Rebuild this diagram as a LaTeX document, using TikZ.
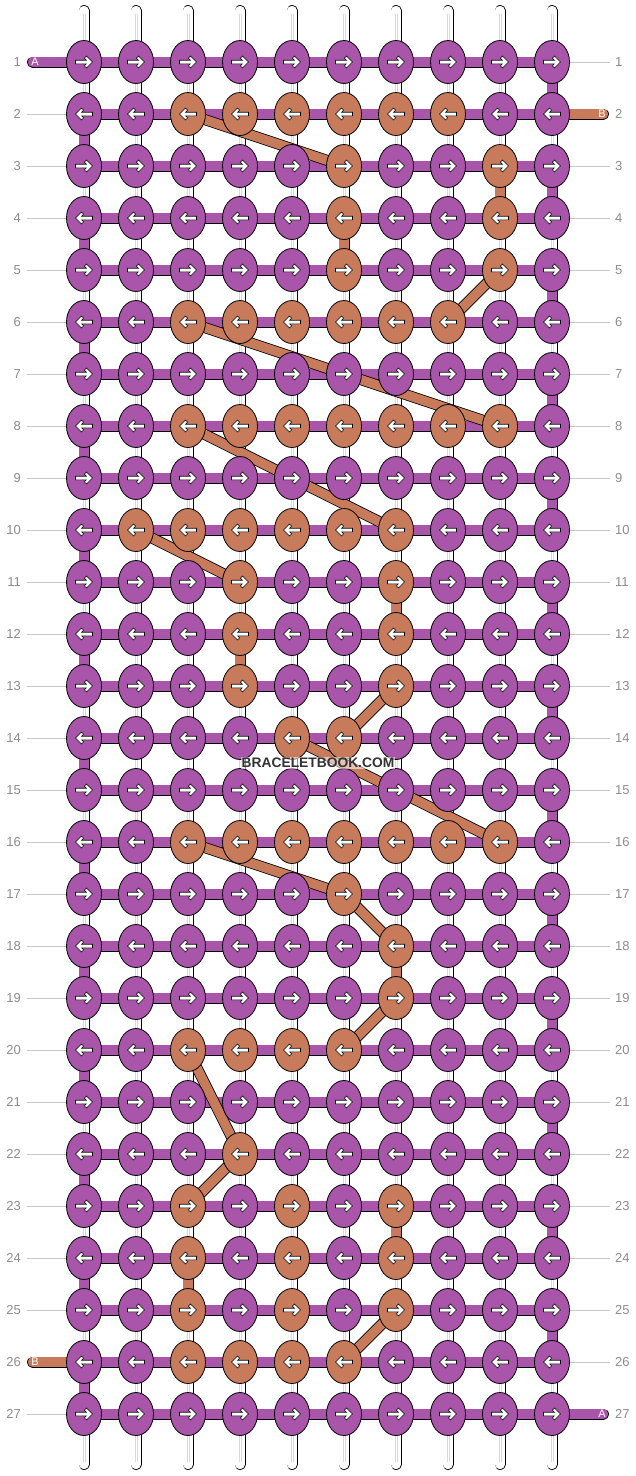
\documentclass[tikz,border=0pt]{standalone}
\usepackage{fontspec}
\setmainfont{Liberation Sans}
\usetikzlibrary{shapes.geometric}
\definecolor{threadA}{HTML}{A855AA}
\definecolor{threadB}{HTML}{C87B5A}
\definecolor{rowgray}{HTML}{8C8C8C}
\definecolor{guidegray}{HTML}{C8C8C8}
\pgfdeclarelayer{strings}
\pgfdeclarelayer{bands}
\pgfsetlayers{strings,bands,main}
\tikzset{
	knot/.style={ellipse, draw=black, line width=.8, minimum width=35, minimum height=43, inner sep=0},
	thread/.style={draw=black, line width=.8, double distance=9.4},
	warp/.style={draw=black, line width=.8, double=white, double distance=9.4, line cap=round},
	rowlabel/.style={text=rowgray, font=\fontsize{13}{15}\selectfont, inner sep=0},
	endlabel/.style={text=white, font=\fontsize{11}{13}\selectfont, inner sep=0},
	guide/.style={guidegray, line width=1},
	pics/knotarrow/.style={code={
		\filldraw[fill=white, draw=black, line width=.6] (-8.5,-1.8) -- (2.46,-1.8) -- (0.38,-3.88) -- (2.5,-6) -- (8.5,0)
			-- (2.5,6) -- (0.38,3.88) -- (2.46,1.8) -- (-8.5,1.8) -- cycle;
	}}
}

\begin{document}
\begin{tikzpicture}[x=1pt,y=-1pt]
			\useasboundingbox (0,0) rectangle (636,1476);

			% KNOTS OF THREAD B
			\foreach \rw/\cs in {2/{3,4,5,6,7,8}, 3/{6,9}, 4/{6,9}, 5/{6,9}, 6/{3,4,5,6,7,8}, 8/{3,4,5,6,7,8,9},
					10/{2,3,4,5,6,7}, 11/{4,7}, 12/{4,7}, 13/{4,7}, 14/{5,6}, 16/{3,4,5,6,7,8,9},
					17/{6}, 18/{7}, 19/{7}, 20/{3,4,5,6}, 22/{4}, 23/{3,5,7}, 24/{3,5,7}, 25/{3,5,7}, 26/{3,4,5,6}} {
				\foreach \cl in \cs {
					\expandafter\gdef\csname B-\rw-\cl\endcsname{}
				}
			}

			% KNOT GRID
			\foreach \rw in {1,...,27} {
				\foreach \cl in {1,...,10} {
					\ifcsname B-\rw-\cl\endcsname\def\kc{threadB}\else\def\kc{threadA}\fi
					\ifodd\rw\def\dir{1}\else\def\dir{-1}\fi
					\node[knot, fill=\kc] (k-\rw-\cl) at ({32+52*\cl},{10+52*\rw}) {};
					\pic[xscale=\dir] at (k-\rw-\cl) {knotarrow};
				}
			}

			% ROW NUMBERS
			\foreach \rw in {1,...,27} {
				\node[rowlabel, anchor=east] (l-\rw) at (21,{10+52*\rw}) {\rw};
				\node[rowlabel, anchor=west] (r-\rw) at (615,{10+52*\rw}) {\rw};
				\ifnum\rw=1\else\ifnum\rw=26\else
					\draw[guide] ([xshift=6]l-\rw.east) -- (k-\rw-1.west);
				\fi\fi
				\ifnum\rw=2\else\ifnum\rw=27\else
					\draw[guide] (k-\rw-10.east) -- ([xshift=-5]r-\rw.west);
				\fi\fi
			}

			% LOOSE ENDS
			\coordinate (a-in) at (32.5,62);
			\coordinate (b-in) at (603.5,114);
			\coordinate (b-out) at (32.5,1362);
			\coordinate (a-out) at (603.5,1414);
			\node[endlabel] (lbl-a-in) at (35,62) {A};
			\node[endlabel] (lbl-b-in) at (602,114) {B};
			\node[endlabel] (lbl-b-out) at (35,1362) {B};
			\node[endlabel] (lbl-a-out) at (602,1414) {A};

			\begin{pgfonlayer}{bands}
				\foreach \rw in {1,...,27}
					\draw[thread, double=threadA] (k-\rw-1.center) -- (k-\rw-10.center);
				\foreach \rw [evaluate=\rw as \nx using int(\rw+1)] in {1,3,...,25}
					\draw[thread, double=threadA] (k-\rw-10.center) -- (k-\nx-10.center);
				\foreach \rw [evaluate=\rw as \nx using int(\rw+1)] in {2,4,...,26}
					\draw[thread, double=threadA] (k-\rw-1.center) -- (k-\nx-1.center);
				\foreach \a/\b in {2-3/3-6, 3-9/4-9, 4-6/5-6, 5-9/6-8, 6-3/8-9, 8-3/10-7, 10-2/11-4, 11-7/12-7,
						12-4/13-4, 13-7/14-6, 14-5/16-9, 16-3/17-6, 17-6/18-7, 18-7/19-7, 19-7/20-6,
						20-3/22-4, 22-4/23-3, 23-7/24-7, 24-3/25-3, 25-7/26-6}
					\draw[thread, double=threadB] (k-\a.center) -- (k-\b.center);
				\draw[thread, double=threadA, line cap=round] (a-in) -- (k-1-1.center);
				\draw[thread, double=threadB, line cap=round] (b-in) -- (k-2-10.center);
				\draw[thread, double=threadB, line cap=round] (b-out) -- (k-26-1.center);
				\draw[thread, double=threadA, line cap=round] (a-out) -- (k-27-10.center);
			\end{pgfonlayer}

			% WARP STRINGS
			\begin{pgfonlayer}{strings}
				\foreach \cl in {1,...,10} {
					\coordinate (top-\cl) at ({32+52*\cl},10.5);
					\coordinate (bot-\cl) at ({32+52*\cl},1464.5);
					\draw[warp] (top-\cl) -- (bot-\cl);
					\draw[gray!30, line width=.4] ([xshift=-1,yshift=-3]top-\cl) -- ([xshift=-1,yshift=3]bot-\cl);
					\draw[gray!30, line width=.4] ([xshift=1,yshift=-3]top-\cl) -- ([xshift=1,yshift=3]bot-\cl);
				}
			\end{pgfonlayer}

			\node[fill=white, fill opacity=.55, text opacity=1, text=black!80, inner sep=1,
				font=\bfseries\fontsize{13.8}{15}\selectfont] (mark) at (318,763) {BRACELETBOOK.COM};
\end{tikzpicture}
\end{document}
